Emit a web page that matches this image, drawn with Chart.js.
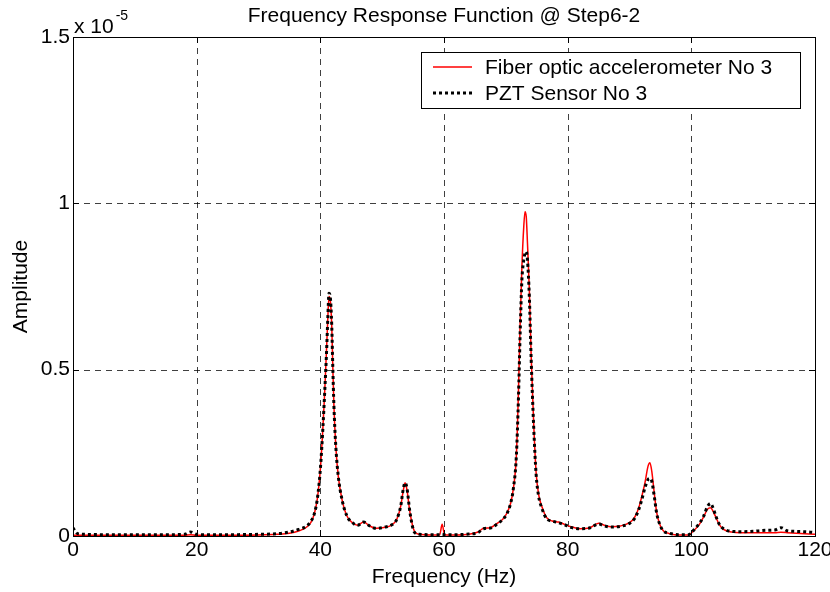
<!DOCTYPE html>
<html><head><meta charset="utf-8">
<script src="https://cdn.jsdelivr.net/npm/chart.js@4"></script>
<style>html,body{margin:0;padding:0;background:#fff}#wrap{width:830px;height:592px}</style>
</head><body><div id="wrap"><canvas id="c" width="830" height="592"></canvas></div>
<script>
const freqHz = [0,0.5,1,2,5,10,15,18,19,20,21,25,30,33,35,36.5,37.8,38.5,39,39.5,40,40.4,40.7,41,41.2,41.4,41.6,41.85,42,42.2,42.5,42.9,43.5,44.3,45.2,46,47,48,49,50.5,51.5,52.3,53,53.4,53.7,54,54.5,55.2,56,58,59.3,59.7,60.1,62,64,65.5,66.4,67.5,68.6,69.5,70.2,70.8,71.2,71.7,72.05,72.3,72.6,72.9,73.1,73.3,73.5,73.8,74.1,74.5,74.9,75.3,75.8,76.6,77.5,78.5,79.5,80.5,82,83.5,85,86,87,88.5,90,90.8,91.5,92,92.5,93,93.3,93.6,94,94.4,95,95.5,96.5,98,99.5,100.5,101.3,102,102.6,103.1,103.5,104,104.5,105.2,106.5,108,110,112,113.5,114.5,115.5,117,119,120];
const fiberAmp = [0.002,0.002,0.002,0.002,0.002,0.002,0.002,0.002,0.004,0.002,0.002,0.002,0.003,0.005,0.008,0.015,0.027,0.042,0.065,0.11,0.2,0.32,0.43,0.56,0.65,0.72,0.71,0.63,0.52,0.39,0.27,0.18,0.11,0.06,0.04,0.032,0.042,0.03,0.023,0.026,0.033,0.048,0.09,0.135,0.16,0.14,0.07,0.015,0.005,0.003,0.004,0.035,0.004,0.003,0.005,0.012,0.023,0.025,0.038,0.05,0.07,0.1,0.14,0.24,0.44,0.63,0.81,0.93,0.975,0.96,0.88,0.74,0.54,0.34,0.19,0.125,0.09,0.055,0.045,0.042,0.035,0.028,0.022,0.024,0.038,0.032,0.028,0.03,0.04,0.055,0.085,0.12,0.16,0.21,0.22,0.195,0.13,0.07,0.03,0.015,0.007,0.003,0.003,0.018,0.035,0.058,0.08,0.085,0.075,0.055,0.035,0.02,0.012,0.01,0.01,0.01,0.01,0.011,0.01,0.008,0.006,0.005];
const pztAmp = [0.025,0.01,0.006,0.005,0.004,0.004,0.004,0.005,0.012,0.005,0.004,0.004,0.005,0.007,0.012,0.02,0.03,0.045,0.065,0.11,0.2,0.32,0.43,0.55,0.65,0.73,0.72,0.63,0.52,0.39,0.27,0.18,0.11,0.06,0.04,0.032,0.042,0.03,0.023,0.027,0.033,0.048,0.09,0.14,0.16,0.145,0.07,0.012,0.005,0.004,0.004,0.005,0.004,0.004,0.006,0.01,0.022,0.024,0.036,0.05,0.068,0.1,0.14,0.24,0.42,0.6,0.77,0.83,0.85,0.855,0.83,0.72,0.53,0.33,0.185,0.12,0.085,0.052,0.045,0.04,0.034,0.026,0.022,0.024,0.036,0.03,0.027,0.029,0.038,0.052,0.08,0.11,0.145,0.17,0.173,0.165,0.12,0.068,0.03,0.015,0.008,0.004,0.004,0.02,0.038,0.06,0.088,0.098,0.085,0.058,0.036,0.022,0.014,0.013,0.014,0.017,0.018,0.025,0.016,0.014,0.012,0.01];
const xTicks = [0,20,40,60,80,100,120];
const yTicks = [0,0.5,1,1.5];
const seriesNames = ['Fiber optic accelerometer No 3','PZT Sensor No 3'];
const titleText = 'Frequency Response Function @ Step6-2';
const xTitle = 'Frequency (Hz)';
const yTitle = 'Amplitude';
const exponentBase = 'x 10';
const exponentPow = '-5';

const FONT = "'Liberation Sans', Arial, Helvetica, sans-serif";

const framePlugin = {
  id: 'frame',
  beforeDatasetsDraw(chart) {
    const {ctx, chartArea: a, scales: {x, y}} = chart;
    ctx.save();
    ctx.strokeStyle = 'rgba(0,0,0,0.75)';
    ctx.lineWidth = 1;
    ctx.setLineDash([6, 5]);
    xTicks.forEach(v => {
      if (v <= x.min || v >= x.max) return;
      const px = Math.round(x.getPixelForValue(v)) + 0.5;
      ctx.beginPath(); ctx.moveTo(px, a.top); ctx.lineTo(px, a.bottom); ctx.stroke();
    });
    yTicks.forEach(v => {
      if (v <= y.min || v >= y.max) return;
      const py = Math.round(y.getPixelForValue(v)) + 0.5;
      ctx.beginPath(); ctx.moveTo(a.left, py); ctx.lineTo(a.right, py); ctx.stroke();
    });
    ctx.restore();
  },
  afterDraw(chart) {
    const {ctx, chartArea: a, scales: {x, y}} = chart;
    ctx.save();
    ctx.strokeStyle = '#000'; ctx.lineWidth = 1; ctx.setLineDash([]);
    ctx.strokeRect(Math.round(a.left) + 0.5, Math.round(a.top) + 0.5, Math.round(a.right - a.left), Math.round(a.bottom - a.top));
    const tl = 6;
    xTicks.forEach(v => {
      const px = Math.round(x.getPixelForValue(v)) + 0.5;
      ctx.beginPath(); ctx.moveTo(px, a.bottom); ctx.lineTo(px, a.bottom - tl);
      ctx.moveTo(px, a.top); ctx.lineTo(px, a.top + tl); ctx.stroke();
    });
    yTicks.forEach(v => {
      const py = Math.round(y.getPixelForValue(v)) + 0.5;
      ctx.beginPath(); ctx.moveTo(a.left, py); ctx.lineTo(a.left + tl, py);
      ctx.moveTo(a.right, py); ctx.lineTo(a.right - tl, py); ctx.stroke();
    });
    ctx.fillStyle = '#000';
    ctx.font = '21px ' + FONT;
    ctx.textAlign = 'center'; ctx.textBaseline = 'middle';
    ctx.fillText(titleText, (a.left + a.right) / 2, 16);
    ctx.textAlign = 'left';
    ctx.fillText(exponentBase, a.left + 1, 27);
    const w = ctx.measureText(exponentBase).width;
    ctx.font = '14px ' + FONT;
    ctx.fillText(exponentPow, a.left + 1 + w + 2, 16);
    const lx = 421, ly = 52, lw = 379, lh = 56;
    ctx.fillStyle = '#fff';
    ctx.fillRect(lx, ly, lw, lh);
    ctx.strokeStyle = '#000'; ctx.lineWidth = 1;
    ctx.strokeRect(lx + 0.5, ly + 0.5, lw, lh);
    const rows = [67, 93];
    chart.data.datasets.forEach((ds, i) => {
      ctx.save();
      ctx.strokeStyle = ds.borderColor;
      ctx.lineWidth = ds.borderWidth;
      ctx.setLineDash(ds.borderDash || []);
      ctx.beginPath(); ctx.moveTo(433, rows[i]); ctx.lineTo(472, rows[i]); ctx.stroke();
      ctx.restore();
      ctx.fillStyle = '#000';
      ctx.font = '21px ' + FONT;
      ctx.textAlign = 'left'; ctx.textBaseline = 'middle';
      ctx.fillText(ds.label, 485, rows[i] + 1);
    });
    ctx.restore();
  }
};

new Chart(document.getElementById('c'), {
  type: 'line',
  data: {
    datasets: [
      { label: seriesNames[0], data: freqHz.map((f, i) => ({x: f, y: fiberAmp[i]})),
        borderColor: '#ff0000', borderWidth: 1.5, pointRadius: 0, cubicInterpolationMode: 'monotone',
        borderJoinStyle: 'round', order: 1, fill: false },
      { label: seriesNames[1], data: freqHz.map((f, i) => ({x: f, y: pztAmp[i]})),
        borderColor: '#000000', borderWidth: 3, borderDash: [3, 3], pointRadius: 0, cubicInterpolationMode: 'monotone',
        borderJoinStyle: 'round', order: 0, fill: false }
    ]
  },
  options: {
    responsive: false,
    animation: false,
    devicePixelRatio: 1,
    layout: { padding: { top: 37, right: 15, left: 0, bottom: 0 } },
    plugins: { legend: { display: false }, title: { display: false }, tooltip: { enabled: false } },
    scales: {
      x: {
        type: 'linear', min: 0, max: 120,
        afterBuildTicks: s => { s.ticks = xTicks.map(v => ({value: v})); },
        afterFit: s => { s.height = 56; s.paddingLeft = 0; s.paddingRight = 0; },
        ticks: { color: '#000', font: { size: 21, family: FONT }, padding: 2, maxRotation: 0, autoSkip: false },
        grid: { display: false, drawTicks: false },
        border: { display: false },
        title: { display: true, text: xTitle, color: '#000', font: { size: 21, family: FONT }, padding: { top: 0, bottom: 2 } }
      },
      y: {
        type: 'linear', min: 0, max: 1.5,
        afterBuildTicks: s => { s.ticks = yTicks.map(v => ({value: v})); },
        afterFit: s => { s.width = 73; s.paddingTop = 0; s.paddingBottom = 0; },
        ticks: { color: '#000', font: { size: 21, family: FONT }, padding: 3, callback: v => String(v) },
        grid: { display: false, drawTicks: false },
        border: { display: false },
        title: { display: true, text: yTitle, color: '#000', font: { size: 21, family: FONT }, padding: { top: 9, bottom: 0 } }
      }
    }
  },
  plugins: [framePlugin]
});
</script>
</body></html>
